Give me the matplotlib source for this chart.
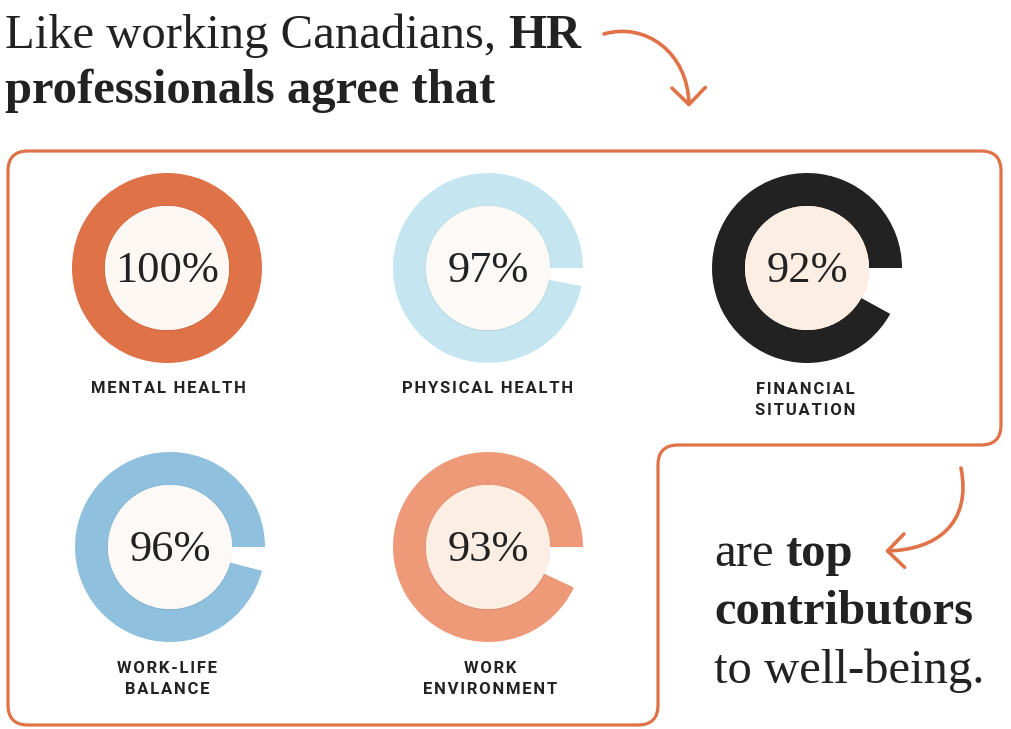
import matplotlib.pyplot as plt
import matplotlib.patheffects as pe
from matplotlib.path import Path
from matplotlib.patches import PathPatch, Circle, FancyArrowPatch

# data
labels = ['MENTAL HEALTH', 'PHYSICAL HEALTH', 'FINANCIAL\nSITUATION',
          'WORK-LIFE\nBALANCE', 'WORK\nENVIRONMENT']
values = [100, 97, 92, 96, 93]
ring_colors = ['#e07248', '#c5e6f0', '#222222', '#8fc1de', '#ee9a78']
hole_colors = ['#fdf8f4', '#fdf9f6', '#fdeee3', '#fdf9f6', '#fdeee3']

W, H = 1012, 729
ORANGE = '#e07248'
DARK = '#222222'
SERIF = 'Liberation Serif'

fig = plt.figure(figsize=(W / 100, H / 100), dpi=100)
ax = fig.add_axes([0, 0, 1, 1])

# donut layout (pixels, y down)
centers = [(167, 268), (488, 268), (807, 268), (170, 547), (488, 547)]
label_x = [168, 488, 805, 167, 490]
label_y = [393, 393, 394, 673, 673]
R_OUT, R_IN = 95, 62

for i, v in enumerate(values):
    cx, cy = centers[i]
    ax.pie([v, 100 - v], colors=[ring_colors[i], 'white'], radius=R_OUT,
           center=(cx, cy), startangle=0, counterclock=False, frame=True,
           wedgeprops=dict(width=R_OUT - R_IN + 2, linewidth=0))
    ax.add_patch(Circle((cx, cy), R_IN + 1.2, fc='black', ec='none', alpha=0.03))
    ax.add_patch(Circle((cx, cy), R_IN, fc=hole_colors[i], ec='none',
                        path_effects=[pe.withSimplePatchShadow(offset=(0, -1), alpha=0.06),
                                      pe.Normal()]))
    ax.text(cx, cy + 14, f'{v}%', ha='center', va='baseline', fontsize=32,
            family=SERIF, color=DARK)
    for j, line in enumerate(labels[i].split('\n')):
        spaced = '\u200a'.join(line)
        ax.text(label_x[i], label_y[i] + j * 21, spaced, ha='center', va='baseline',
                fontsize=12, fontweight='bold', family=['Roboto', 'DejaVu Sans'],
                color=DARK)

# outline box
rad = 20
L, T, Rt, STEP, XM, B = 8, 151, 1001, 445, 658, 725
verts = [(L, T + rad), (L, B - rad), (L, B), (L + rad, B), (XM - rad, B), (XM, B),
         (XM, B - rad), (XM, STEP + rad), (XM, STEP), (XM + rad, STEP), (Rt - rad, STEP),
         (Rt, STEP), (Rt, STEP - rad), (Rt, T + rad), (Rt, T), (Rt - rad, T),
         (L + rad, T), (L, T), (L, T + rad)]
codes = [Path.MOVETO, Path.LINETO, Path.CURVE3, Path.CURVE3, Path.LINETO, Path.CURVE3,
         Path.CURVE3, Path.LINETO, Path.CURVE3, Path.CURVE3, Path.LINETO, Path.CURVE3,
         Path.CURVE3, Path.LINETO, Path.CURVE3, Path.CURVE3, Path.LINETO, Path.CURVE3,
         Path.CURVE3]
ax.add_patch(PathPatch(Path(verts, codes), fc='none', ec=ORANGE, lw=2.3))

# arrows
c4 = [Path.MOVETO, Path.CURVE4, Path.CURVE4, Path.CURVE4]
arrow1 = Path([(604, 34), (645, 22), (688, 52), (689, 107)], c4)
arrow2 = Path([(961, 468), (972, 524), (936, 550), (885, 551)], c4)
for p in (arrow1, arrow2):
    ax.add_patch(FancyArrowPatch(path=p, arrowstyle='->,head_length=0.6,head_width=0.6',
                                 mutation_scale=20, lw=2.6, color=ORANGE,
                                 capstyle='round', joinstyle='round'))

# title text
t1 = ax.text(5, 48, 'Like working Canadians,', fontsize=35, family=SERIF,
             color=DARK, va='baseline')
ax.annotate('HR', xy=(1, 0), xycoords=t1, xytext=(8.5, 0), textcoords='offset points',
            va='bottom', ha='left', fontsize=35, family=SERIF, fontweight='bold',
            color=DARK)
ax.text(5, 103, 'professionals agree that', fontsize=35, family=SERIF,
        fontweight='bold', color=DARK, va='baseline')

# right text
t2 = ax.text(714, 566, 'are', fontsize=35, family=SERIF, color=DARK, va='baseline')
ax.annotate('top', xy=(1, 0), xycoords=t2, xytext=(8.5, 0), textcoords='offset points',
            va='bottom', ha='left', fontsize=35, family=SERIF, fontweight='bold',
            color=DARK)
ax.text(714, 624, 'contributors', fontsize=35, family=SERIF, fontweight='bold',
        color=DARK, va='baseline')
ax.text(714, 683, 'to well-being.', fontsize=35, family=SERIF, color=DARK,
        va='baseline')

ax.set_xlim(0, W)
ax.set_ylim(H, 0)
ax.set_aspect('equal')
ax.axis('off')
fig.savefig('out.png', dpi=100, facecolor='white')
